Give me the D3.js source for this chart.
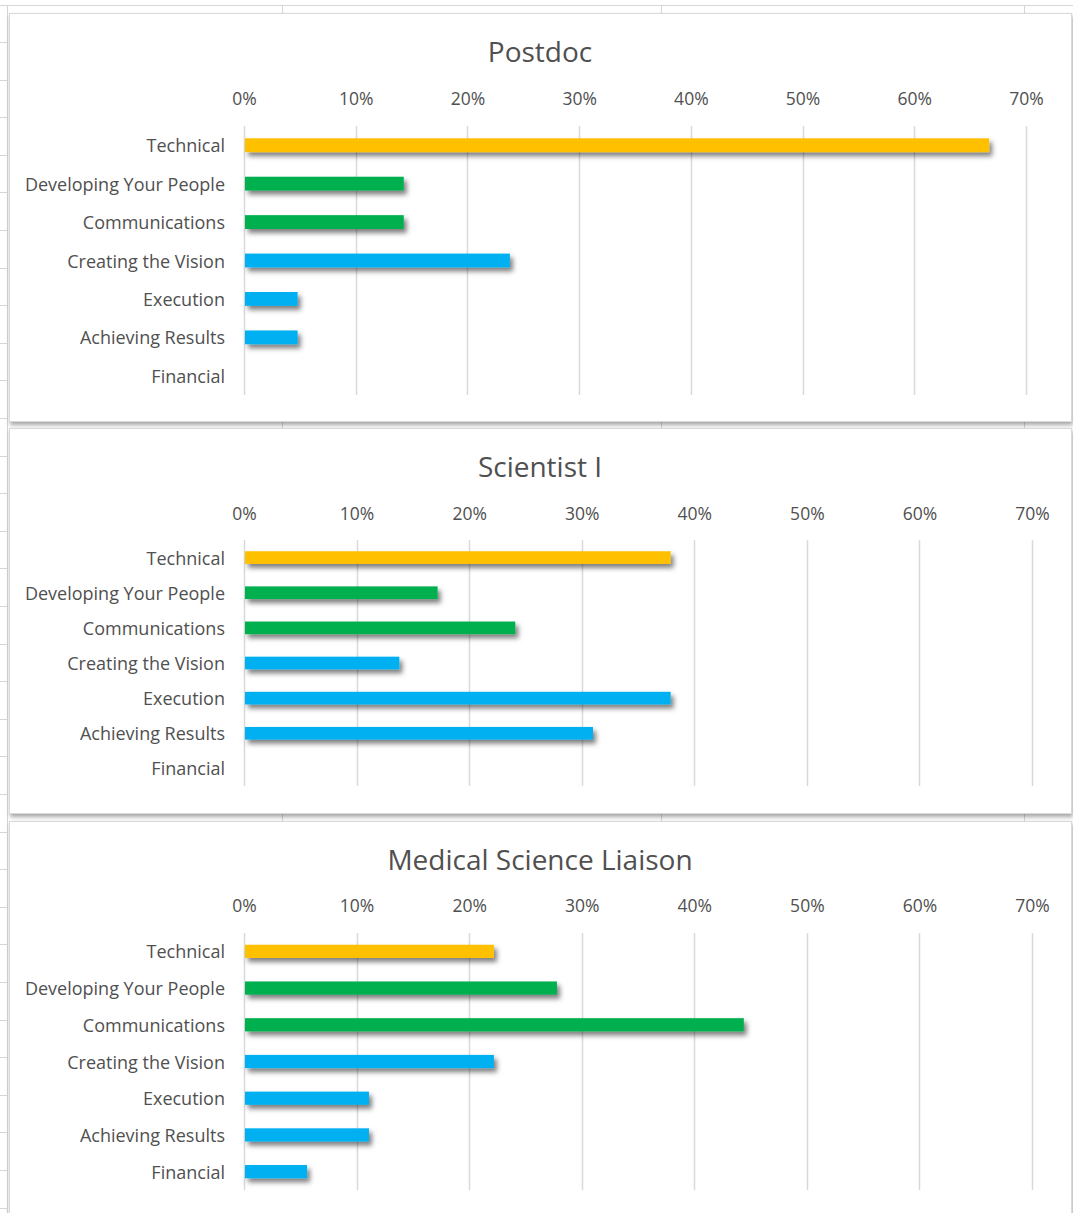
<!DOCTYPE html>
<html>
<head>
<meta charset="utf-8">
<script src="https://cdn.jsdelivr.net/npm/d3@7/dist/d3.min.js"></script>
<style>
  html, body { margin: 0; padding: 0; background: #fff; }
  svg { display: block; }
  text { font-family: "Open Sans", Lato, sans-serif; fill: #505050; }
</style>
</head>
<body>
<svg id="chart" width="1073" height="1213"></svg>
<script>
// Skill categories, shared by all three roles (top to bottom)
const categories = [
  "Technical",
  "Developing Your People",
  "Communications",
  "Creating the Vision",
  "Execution",
  "Achieving Results",
  "Financial"
];

// Share of respondents (%) per role
const postdocValues   = [66.7, 14.3, 14.3, 23.8, 4.8, 4.8, 0];
const scientistValues = [37.9, 17.2, 24.1, 13.8, 37.9, 31.0, 0];
const mslValues       = [22.2, 27.8, 44.4, 22.2, 11.1, 11.1, 5.6];

const roleTitles = ["Postdoc", "Scientist I", "Medical Science Liaison"];

// Axis ticks
const tickValues = [0, 10, 20, 30, 40, 50, 60, 70];
const tickLabels = ["0%", "10%", "20%", "30%", "40%", "50%", "60%", "70%"];

// Skill group colours: technical / people / business
const groupOf = {
  "Technical": "tech",
  "Developing Your People": "people",
  "Communications": "people",
  "Creating the Vision": "biz",
  "Execution": "biz",
  "Achieving Results": "biz",
  "Financial": "biz"
};
const groupColor = { tech: "#FFC000", people: "#00B050", biz: "#00B0F0" };

const svg = d3.select("#chart");
const W = 1073, H = 1213;

const defs = svg.append("defs");
const barShadow = defs.append("filter").attr("id", "barShadow")
  .attr("x", "-10%").attr("y", "-80%").attr("width", "130%").attr("height", "300%");
barShadow.append("feDropShadow")
  .attr("dx", 3).attr("dy", 4).attr("stdDeviation", 2.4)
  .attr("flood-color", "#000").attr("flood-opacity", 0.5);

const panelShadow = defs.append("filter").attr("id", "panelShadow")
  .attr("x", "-5%").attr("y", "-5%").attr("width", "110%").attr("height", "110%");
panelShadow.append("feDropShadow")
  .attr("dx", 1).attr("dy", 3).attr("stdDeviation", 2)
  .attr("flood-color", "#000").attr("flood-opacity", 0.35);

// Worksheet grid behind the chart panels
const sheet = svg.append("g").attr("stroke", "#d6d6d6").attr("stroke-width", 1);
sheet.append("line").attr("x1", 0).attr("x2", W).attr("y1", 5.5).attr("y2", 5.5);
[282.5, 661.5, 1024.5].forEach(x =>
  sheet.append("line").attr("x1", x).attr("x2", x).attr("y1", 5).attr("y2", H));
sheet.append("line").attr("x1", 7.5).attr("x2", 7.5).attr("y1", 5).attr("y2", H);
d3.range(42, H, 37.6).forEach(y =>
  sheet.append("line").attr("x1", 0).attr("x2", 7).attr("y1", Math.round(y) + 0.5).attr("y2", Math.round(y) + 0.5));

// Panel layout
const panels = [
  { title: roleTitles[0], values: postdocValues,   top: 13,  bottom: 421,  titleY: 51,  tickY: 98,  plotTop: 126, plotBottom: 395,  x0: 244, x1: 1026 },
  { title: roleTitles[1], values: scientistValues, top: 428, bottom: 813,  titleY: 466, tickY: 513, plotTop: 540, plotBottom: 786,  x0: 244, x1: 1032 },
  { title: roleTitles[2], values: mslValues,       top: 821, bottom: 1240, titleY: 859, tickY: 905, plotTop: 933, plotBottom: 1190, x0: 244, x1: 1032 }
];

const labelRight = 225;
const panelLeft = 9, panelRight = 1072;

panels.forEach(p => {
  const g = svg.append("g");

  g.append("rect")
    .attr("x", panelLeft + 0.5).attr("y", p.top + 0.5)
    .attr("width", panelRight - panelLeft - 1).attr("height", p.bottom - p.top)
    .attr("fill", "#fff").attr("stroke", "#d9d9d9").attr("stroke-width", 1)
    .attr("filter", "url(#panelShadow)");

  const x = d3.scaleLinear().domain([0, 70]).range([p.x0, p.x1]);
  const y = d3.scaleBand().domain(categories).range([p.plotTop, p.plotBottom]).paddingInner(0.64).paddingOuter(0.32);

  // Title
  g.append("text")
    .attr("x", 540).attr("y", p.titleY)
    .attr("text-anchor", "middle").attr("dominant-baseline", "central")
    .attr("font-size", 28).style("fill", "#505050")
    .text(p.title);

  // Vertical gridlines
  g.append("g").selectAll("line").data(tickValues).join("line")
    .attr("x1", d => Math.round(x(d)) + 0.5).attr("x2", d => Math.round(x(d)) + 0.5)
    .attr("y1", p.plotTop).attr("y2", p.plotBottom)
    .attr("stroke", "#d9d9d9").attr("stroke-width", 1.5);

  // Top axis labels
  const axis = d3.axisTop(x).tickValues(tickValues)
    .tickFormat((d, i) => tickLabels[i]).tickSize(0).tickPadding(0);
  const ax = g.append("g").attr("transform", `translate(0,${p.tickY + 7})`).call(axis);
  ax.select(".domain").remove();
  ax.selectAll("text").attr("font-size", 17.5).style("fill", "#505050")
    .style("font-family", "'Open Sans', Lato, sans-serif");

  // Category labels
  g.append("g").selectAll("text").data(categories).join("text")
    .attr("x", labelRight).attr("y", d => y(d) + y.bandwidth() / 2)
    .attr("text-anchor", "end").attr("dominant-baseline", "central")
    .attr("font-size", 18)
    .text(d => d);

  // Bars
  g.append("g").attr("filter", "url(#barShadow)")
    .selectAll("rect").data(categories.map((c, i) => ({ c, v: p.values[i] })).filter(d => d.v > 0))
    .join("rect")
    .attr("x", x(0) + 1).attr("y", d => y(d.c))
    .attr("width", d => x(d.v) - x(0) - 1).attr("height", y.bandwidth())
    .attr("fill", d => groupColor[groupOf[d.c]]);
});
</script>
</body>
</html>
